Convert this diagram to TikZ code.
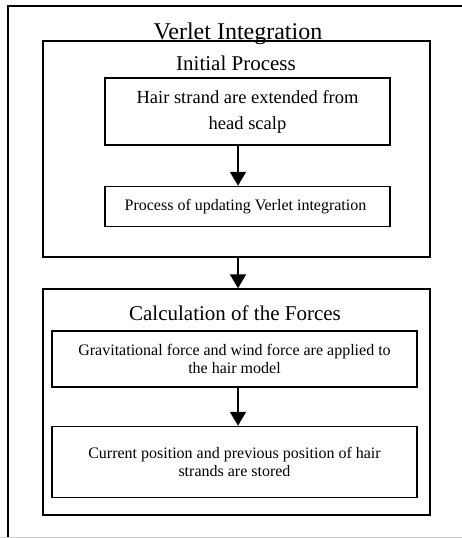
\documentclass[tikz,border=0pt]{standalone}
\usepackage{fontspec}
\setmainfont{Liberation Serif}
\usetikzlibrary{arrows.meta, positioning}

\begin{document}
\begin{tikzpicture}[x=1pt, y=-1pt]
		\tikzstyle{group}=[rectangle, draw, line width=1.5pt, inner sep=0pt]
		\tikzstyle{stage}=[rectangle, draw, line width=1.5pt, align=center, inner sep=0pt, font=\fontsize{16}{18.3}\selectfont]
		\tikzstyle{heading}=[anchor=base, inner sep=0pt, font=\fontsize{21}{24}\selectfont]
		\tikzstyle{flow}=[-{Triangle[width=16pt, length=14pt]}, line width=2pt]

		\useasboundingbox (0,0) rectangle (462,538);

		% outer frame
		\draw[line width=1.2pt] (462,6) -- (8,6) -- (8,537);
		\draw[gray!40, line width=1pt] (0,537.5) -- (462,537.5);

		\node[group, minimum width=387pt, minimum height=216pt] (init) at (236.5,149) {};
		\node[group, minimum width=387pt, minimum height=226pt] (calc) at (236.5,402) {};

		\node[heading, font=\fontsize{24}{28}\selectfont] (title) at (238,39) {Verlet Integration};
		\node[heading] (initlabel) at (236,70) {Initial Process};
		\node[heading] (calclabel) at (235,320) {Calculation of the Forces};

		\node[stage, minimum width=285pt, minimum height=67pt, font=\fontsize{18.5}{26}\selectfont] (hair) at (247.5,111.5) {
			Hair strand are extended from\\head scalp
		};
		\node[stage, minimum width=285pt, minimum height=40pt, below=40pt of hair] (update) {
			Process of updating Verlet integration
		};

		\node[stage, minimum width=365pt, minimum height=56pt] (gravity) at (234.5,359) {
			Gravitational force and wind force are applied to\\the hair model
		};
		\node[stage, minimum width=365pt, minimum height=71pt, below=38pt of gravity] (stored) {
			Current position and previous position of hair\\strands are stored
		};

		\draw[flow] (hair.south -| title.base) -- (update.north -| title.base);
		\draw[flow] (init.south -| title.base) -- (calc.north -| title.base);
		\draw[flow] (gravity.south -| title.base) -- (stored.north -| title.base);

	\end{tikzpicture}
\end{document}
